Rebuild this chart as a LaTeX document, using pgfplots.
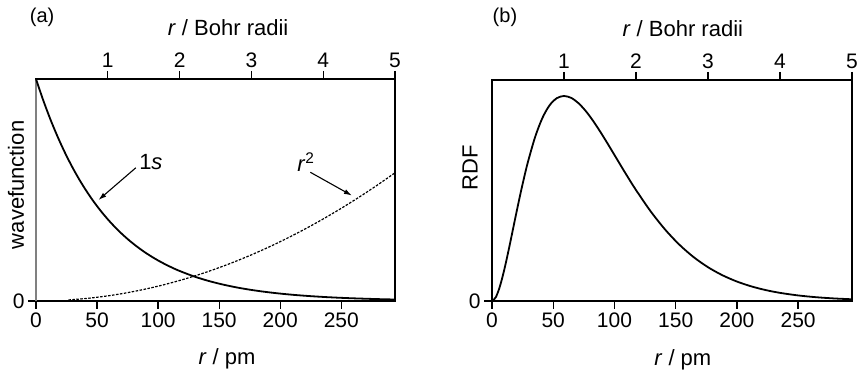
\documentclass[border=0pt]{standalone}
\usepackage{pgfplots}
\pgfplotsset{compat=1.18}
\usepackage{fontspec}
\setmainfont{Liberation Sans}
\usetikzlibrary{arrows.meta}

\pgfplotsset{
  panel/.style={
    scale only axis, anchor=south west,
    axis line style={line width=1.5pt},
    every tick/.style={black, line width=1.3pt},
    major tick length=8pt,
    tick align=outside,
    tick label style={font=\fontsize{21}{25}\selectfont},
    label style={font=\fontsize{22}{26}\selectfont},
    /pgf/number format/assume math mode=true,
  },
}

\begin{document}
\begin{tikzpicture}
\path[use as bounding box] (0pt,0pt) rectangle (857pt,377pt);

% ---------------- panel (a): pm axis ----------------
\begin{axis}[panel, at={(36pt,76pt)}, width=359pt, height=222pt,
  xmin=0, xmax=294, ymin=0, ymax=1,
  xtick={0,50,100,150,200,250}, xtick pos=bottom,
  ytick={0}, ytick pos=left,
  xlabel={\textit{r} / pm},
  xlabel style={at={(axis description cs:0.532,-0.288)}, anchor=base},
  ylabel={wavefunction},
  ylabel style={at={(axis description cs:-0.056,0.523)}, anchor=center},
]
\end{axis}

% ---------------- panel (a): Bohr axis + data ----------------
\begin{axis}[panel, at={(36pt,76pt)}, width=359pt, height=222pt,
  xmin=0, xmax=5, ymin=0, ymax=1,
  xtick={1,2,3,4,5}, xtick pos=top, ytick=\empty,
  xlabel={\textit{r} / Bohr radii},
  xlabel style={at={(axis description cs:0.535,1.194)}, anchor=base},
  clip=false,
]
\draw[black!50, line width=2pt] (axis cs:0,0) -- (axis cs:0,1);
% 1s
\addplot[black, line width=1.8pt, smooth] coordinates {
(0,1) (0.1,0.9048) (0.2,0.8187) (0.3,0.7408) (0.4,0.6703) (0.5,0.6065)
(0.6,0.5488) (0.7,0.4966) (0.8,0.4493) (0.9,0.4066) (1.0,0.3679)
(1.1,0.3329) (1.2,0.3012) (1.3,0.2725) (1.4,0.2466) (1.5,0.2231)
(1.6,0.2019) (1.7,0.1827) (1.8,0.1653) (1.9,0.1496) (2.0,0.1353)
(2.2,0.1108) (2.4,0.0907) (2.6,0.0743) (2.8,0.0608) (3.0,0.0498)
(3.2,0.0408) (3.4,0.0334) (3.6,0.0273) (3.8,0.0224) (4.0,0.0183)
(4.2,0.0150) (4.4,0.0123) (4.6,0.0101) (4.8,0.0082) (5.0,0.0067)
};
% r^2
\addplot[black, line width=1.2pt, dash pattern=on 2.5pt off 1.5pt, smooth] coordinates {
(0.45,0.0047) (0.5,0.0058) (0.75,0.0130) (1.0,0.0231) (1.25,0.0361)
(1.5,0.0520) (1.75,0.0707) (2.0,0.0924) (2.25,0.1169) (2.5,0.1444)
(2.75,0.1747) (3.0,0.2079) (3.25,0.2440) (3.5,0.2830) (3.75,0.3248)
(4.0,0.3696) (4.25,0.4172) (4.5,0.4678) (4.75,0.5212) (5.0,0.5775)
};
\draw[-{Latex[length=8pt,width=5pt]}, line width=1.1pt] (axis cs:1.39,0.60) -- (axis cs:0.87,0.455);
\node[font=\fontsize{22}{26}\selectfont] at (axis cs:1.60,0.625) {1\textit{s}};
\draw[-{Latex[length=8pt,width=5pt]}, line width=1.1pt] (axis cs:3.82,0.58) -- (axis cs:4.40,0.475);
\node[font=\fontsize{22}{26}\selectfont] at (axis cs:3.76,0.625) {\textit{r}\textsuperscript{2}};
\node[font=\fontsize{20}{24}\selectfont] at (axis description cs:0.017,1.279) {(a)};
\end{axis}

% ---------------- panel (b): pm axis ----------------
\begin{axis}[panel, at={(492pt,76pt)}, width=360pt, height=221pt,
  xmin=0, xmax=294, ymin=0, ymax=1.078,
  xtick={0,50,100,150,200,250}, xtick pos=bottom,
  ytick={0}, ytick pos=left,
  xlabel={\textit{r} / pm},
  xlabel style={at={(axis description cs:0.53,-0.29)}, anchor=base},
  ylabel={RDF},
  ylabel style={at={(axis description cs:-0.061,0.602)}, anchor=center},
]
\end{axis}

% ---------------- panel (b): Bohr axis + data ----------------
\begin{axis}[panel, at={(492pt,76pt)}, width=360pt, height=221pt,
  xmin=0, xmax=5, ymin=0, ymax=1.078,
  xtick={1,2,3,4,5}, xtick pos=top, ytick=\empty,
  xlabel={\textit{r} / Bohr radii},
  xlabel style={at={(axis description cs:0.53,1.199)}, anchor=base},
  clip=false,
]
\addplot[black, line width=1.8pt, smooth] coordinates {
(0,0) (0.05,0.0167) (0.1,0.0605) (0.15,0.1232) (0.2,0.1981) (0.25,0.2801)
(0.3,0.3650) (0.35,0.4495) (0.4,0.5312) (0.45,0.6083) (0.5,0.6796)
(0.6,0.8012) (0.7,0.8928) (0.8,0.9548) (0.9,0.9893) (1.0,1.0)
(1.1,0.9907) (1.2,0.9653) (1.3,0.9275) (1.4,0.8807) (1.5,0.8277)
(1.6,0.7711) (1.7,0.7127) (1.8,0.6541) (1.9,0.5967) (2.0,0.5413)
(2.2,0.4391) (2.4,0.3503) (2.6,0.2755) (2.8,0.2142) (3.0,0.1648)
(3.2,0.1257) (3.4,0.0951) (3.6,0.0715) (3.8,0.0534) (4.0,0.0397)
(4.25,0.0272) (4.5,0.0185) (4.75,0.0125) (5.0,0.0084)
};
\node[font=\fontsize{20}{24}\selectfont] at (axis description cs:0.036,1.285) {(b)};
\end{axis}
\end{tikzpicture}
\end{document}
